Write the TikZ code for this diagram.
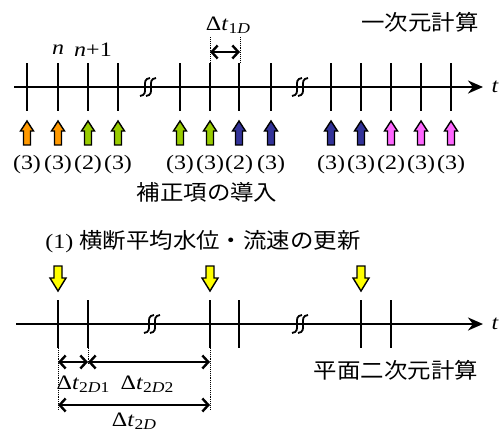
\documentclass[tikz,border=0pt]{standalone}
\usepackage{fontspec}
\setmainfont[FakeStretch=1.17]{Liberation Serif}
\newfontfamily\jp[FakeStretch=1.09]{Noto Sans CJK JP}
\usetikzlibrary{arrows.meta}

\definecolor{orangeA}{HTML}{FF9900}
\definecolor{greenA}{HTML}{99CC00}
\definecolor{blueA}{HTML}{333399}
\definecolor{pinkA}{HTML}{FF66FF}
\definecolor{yellowA}{HTML}{FFFF00}

\newcommand{\dT}[1]{Δ\textit{t}\raisebox{-0.35ex}{\fontsize{15}{15}\selectfont #1}}

\tikzset{
    lbl/.style={font=\fontsize{20.5}{20.5}\selectfont, inner sep=0pt},
    jlbl/.style={font=\jp\fontsize{21.5}{21.5}\selectfont, inner sep=0pt},
    tick/.style={line width=2.1pt},
    axis/.style={line width=2.6pt,-{Stealth[length=15pt,width=13pt]}},
    dim/.style={line width=2.4pt,{Straight Barb[length=6pt,width=13pt]}-{Straight Barb[length=6pt,width=13pt]}},
    guide/.style={densely dotted,line width=0.9pt},
    upblk/.pic={\filldraw[line width=1.4pt,line join=miter] (-3.5,24) -- (-3.5,10) -- (-6.5,10) -- (0,0) -- (6.5,10) -- (3.5,10) -- (3.5,24) -- cycle;},
    dnblk/.pic={\filldraw[line width=1.4pt,line join=miter] (-4,0) -- (4,0) -- (4,12) -- (8,12) -- (0,25) -- (-8,12) -- (-4,12) -- cycle;}
}

\begin{document}
\begin{tikzpicture}[x=1pt,y=-1pt]
    \useasboundingbox (0,0) rectangle (502,437);
    % one-dimensional time axis
    \coordinate (a1s) at (14,87);
    \coordinate (a1e) at (483,87);
    \draw[axis] (a1s) -- (a1e);
    \node[lbl,font=\fontsize{20.5}{20.5}\selectfont\itshape] (t1) at (495,87) {t};
    \foreach \x/\c/\k in {27/orangeA/3,58/orangeA/3,88/greenA/2,118/greenA/3,
        180/greenA/3,210/greenA/3,239/blueA/2,271/blueA/3,
        331/blueA/3,361/blueA/3,391/pinkA/2,421/pinkA/3,451/pinkA/3}{
        \draw[tick] (\x,63) -- (\x,111);
        \pic[fill=\c] at (\x,121) {upblk};
        \node[lbl] (s\x) at (\x,165) {(\k)};
    }
    \foreach \x/\y in {148/87,300/87,152/324,300/324}{
        \foreach \d in {-3,3}
            \draw[line width=1.8pt] ({\x+\d+5},{\y-9}) .. controls ({\x+\d-6},{\y-8}) and ({\x+\d+6},{\y+8}) .. ({\x+\d-5},{\y+9});
    }
    \node[lbl,font=\fontsize{20.5}{20.5}\selectfont\itshape] (n) at (58,50) {n};
    \node[lbl] (n1) at (93,50) {\textit{n}+1};
    \node[jlbl] (one) at (420,22) {一次元計算};
    \node[jlbl] (corr) at (207,192) {補正項の導入};
    % delta t 1D
    \draw[guide] (210,37) -- (210,63);
    \draw[guide] (240,37) -- (240,63);
    \coordinate (d1a) at (210,52);
    \coordinate (d1b) at (240,52);
    \draw[dim] (d1a) -- (d1b);
    \node[lbl] (dt1) at (228,25) {\dT{1\textit{D}}};

    % plane two-dimensional time axis
    \node[lbl] (upd) at (203,242) {(1) {\jp\fontsize{21.5}{21.5}\selectfont 横断平均水位・流速の更新}};
    \coordinate (a2s) at (16,324);
    \coordinate (a2e) at (483,324);
    \draw[axis] (a2s) -- (a2e);
    \node[lbl,font=\fontsize{20.5}{20.5}\selectfont\itshape] (t2) at (495,324) {t};
    \foreach \x in {58,88,210,239,361,391}
        \draw[tick] (\x,300) -- (\x,348);
    \foreach \x in {58,210,361}
        \pic[fill=yellowA] at (\x,266) {dnblk};
    \node[jlbl] (two) at (396,370) {平面二次元計算};
    % delta t 2D
    \draw[guide] (58,348) -- (58,410);
    \draw[guide] (88,348) -- (88,364);
    \draw[guide] (210,348) -- (210,410);
    \coordinate (p0) at (58,362);
    \coordinate (p1) at (88,362);
    \coordinate (p2) at (210,362);
    \coordinate (q0) at (58,405);
    \coordinate (q2) at (210,405);
    \draw[dim] (p0) -- (p1);
    \draw[dim] (p1) -- (p2);
    \draw[dim] (q0) -- (q2);
    \node[lbl] (dt21) at (83,384) {\dT{2\textit{D}1}};
    \node[lbl] (dt22) at (147,384) {\dT{2\textit{D}2}};
    \node[lbl] (dt2) at (134,421) {\dT{2\textit{D}}};
\end{tikzpicture}
\end{document}
